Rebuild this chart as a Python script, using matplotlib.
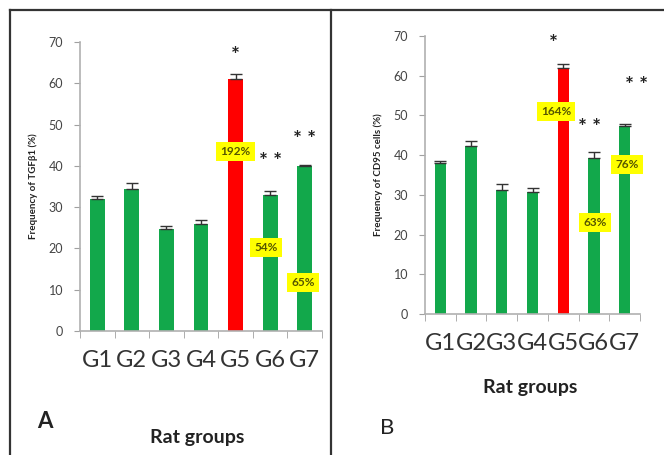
import matplotlib
matplotlib.use("Agg")
import matplotlib.pyplot as plt
import numpy as np
from matplotlib.lines import Line2D

plt.rcParams['font.family'] = ['Lato', 'DejaVu Sans']

groups = ["G1", "G2", "G3", "G4", "G5", "G6", "G7"]
tgf_values = [32.0, 34.5, 24.6, 26.0, 61.0, 33.0, 40.0]
tgf_errors = [0.8, 1.3, 0.9, 1.0, 1.3, 0.9, 0.2]
cd95_values = [38.0, 42.3, 31.2, 30.7, 62.0, 39.2, 47.4]
cd95_errors = [0.6, 1.3, 1.6, 1.1, 1.0, 1.5, 0.5]
bar_colors = ["#12A84B", "#12A84B", "#12A84B", "#12A84B", "#FF0000", "#12A84B", "#12A84B"]

# annotation text: (text, x-position in category units, y in data units)
tgf_stars = [("*", 4.0, 66.5), ("* *", 5.0, 41.0), ("* *", 6.0, 46.3)]
tgf_boxes = [("192%", 4.0, 43.5), ("54%", 4.88, 20.2), ("65%", 5.95, 11.7)]
cd95_stars = [("*", 3.67, 68.0), ("* *", 4.87, 46.8), ("* *", 6.4, 57.3)]
cd95_boxes = [("164%", 3.77, 51.0), ("63%", 5.04, 23.0), ("76%", 6.08, 37.6)]

W, H = 664, 455
fig = plt.figure(figsize=(W / 100, H / 100), dpi=100)
fig.patch.set_facecolor("white")


def px_axes(x0, x1, y0, y1):
    return fig.add_axes([x0 / W, (H - y0) / H, (x1 - x0) / W, (y0 - y1) / H])


def draw_panel(ax, values, errors, ylabel, stars, boxes, bar_w, label_fs):
    x = np.arange(len(groups))
    ax.bar(x, values, width=bar_w, color=bar_colors, edgecolor="none", zorder=2)
    ax.errorbar(x, values, yerr=[np.zeros(len(values)), errors], fmt="none",
                ecolor="#333333", elinewidth=1.0, capsize=4, capthick=1.0, zorder=3)
    ax.set_xlim(-0.5, len(groups) - 0.5)
    ax.set_ylim(0, 70)
    ax.set_yticks(np.arange(0, 71, 10))
    ax.set_xticks(x)
    ax.set_xticklabels(groups, fontsize=label_fs, color="#333333")
    ax.set_xticks(np.arange(-0.5, len(groups), 1.0), minor=True)
    ax.tick_params(axis="x", which="major", length=0, pad=14)
    ax.tick_params(axis="x", which="minor", length=5, color="#A0A0A0", direction="out")
    ax.tick_params(axis="y", length=4, color="#A0A0A0", labelsize=9,
                   labelcolor="#444444", pad=8)
    for s in ["top", "right"]:
        ax.spines[s].set_visible(False)
    for s in ["left", "bottom"]:
        ax.spines[s].set_color("#B0B0B0")
        ax.spines[s].set_linewidth(1.2)
    ax.set_ylabel(ylabel, fontsize=7, fontweight="bold", color="#222222", labelpad=8)
    for t, xx, yy in stars:
        ax.text(xx, yy, t, ha="center", va="center", fontsize=15, fontweight="bold",
                color="#222222", clip_on=False)
    for t, xx, yy in boxes:
        ax.text(xx, yy, t, ha="center", va="center", fontsize=8.5, color="#555500",
                fontweight="bold", clip_on=False, zorder=5,
                bbox=dict(boxstyle="square,pad=0.35", facecolor="#FFFF00",
                          edgecolor="none"))


axA = px_axes(80, 322, 331, 42)
draw_panel(axA, tgf_values, tgf_errors, "Frequency of TGFβ1 (%)", tgf_stars,
           tgf_boxes, 0.43, 17)
axB = px_axes(425, 640, 314, 36)
draw_panel(axB, cd95_values, cd95_errors, "Frequency of CD95 cells (%)", cd95_stars,
           cd95_boxes, 0.37, 17)

# panel letters and x titles
fig.text(45 / W, (H - 422) / H, "A", fontsize=16, fontweight="bold", color="#222222",
         ha="center", va="center")
fig.text(197 / W, (H - 437) / H, "Rat groups", fontsize=14, fontweight="bold",
         color="#222222", ha="center", va="center")
fig.text(387 / W, (H - 428) / H, "B", fontsize=16, color="#222222",
         ha="center", va="center")
fig.text(530 / W, (H - 388) / H, "Rat groups", fontsize=14, fontweight="bold",
         color="#222222", ha="center", va="center")

# frame lines
lc = "#333333"
fig.add_artist(Line2D([10 / W, 10 / W], [0, (H - 10) / H], color=lc, lw=1.6))
fig.add_artist(Line2D([10 / W, 1], [(H - 10) / H, (H - 10) / H], color=lc, lw=1.6))
fig.add_artist(Line2D([331 / W, 331 / W], [0, (H - 10) / H], color=lc, lw=1.6))

fig.savefig("out.png", dpi=100, facecolor="white")
